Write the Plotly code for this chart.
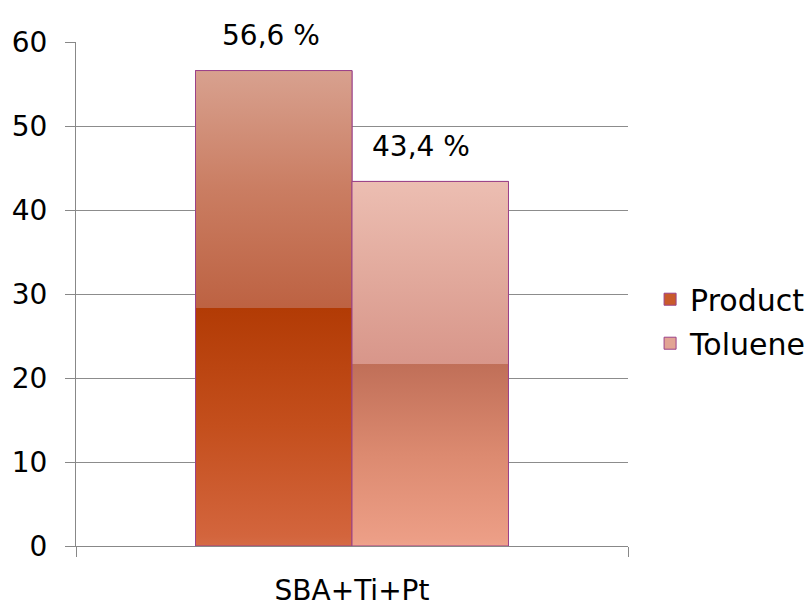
import plotly.graph_objects as go

# Data
categories = ["SBA+Ti+Pt"]
series_names = ["Product", "Toluene"]
series_values = [56.6, 43.4]
y_ticks = [0, 10, 20, 30, 40, 50, 60]

# Styling
BAR_GAP = 0.433
FONT = "DejaVu Sans"
OUTLINE = "#9b4289"
legend_colors = ["#c95a2b", "#e2a494"]
label_xshift = [-3, -9]
# vertical "glass" gradients: bottom half darker, sharp step at mid-height, lighter top half
gradients = [
    [[0.0, "#d56b45"], [0.02, "#d3653d"], [0.25, "#c44f1d"], [0.5, "#b23b05"],
     [0.5, "#bd6242"], [0.75, "#ca7d62"], [1.0, "#d8a18f"]],
    [[0.0, "#efa38c"], [0.02, "#ec9e86"], [0.25, "#dc8a70"], [0.5, "#c06f58"],
     [0.5, "#d8968a"], [0.75, "#e2aa9d"], [1.0, "#ecbeb2"]],
]

fig = go.Figure()

# bars on the category axis (also provide legend entries)
for name, val, col in zip(series_names, series_values, legend_colors):
    fig.add_trace(go.Bar(
        x=categories, y=[val], name=name,
        marker=dict(color=col, line=dict(color=OUTLINE, width=1)),
        hoverinfo="skip",
        legendgroup=name,
    ))

# gradient-filled bar bodies on an overlaid numeric axis spanning the category slot
n = len(series_values)
bar_w = (1 - BAR_GAP) / n
left0 = -bar_w * n / 2
for i, (name, val, cs) in enumerate(zip(series_names, series_values, gradients)):
    x0 = left0 + i * bar_w
    x1 = x0 + bar_w
    fig.add_trace(go.Scatter(
        x=[x0, x1, x1, x0, x0], y=[0, 0, val, val, 0],
        xaxis="x2", mode="lines", fill="toself",
        line=dict(color=OUTLINE, width=1),
        fillgradient=dict(type="vertical", colorscale=cs, start=0, stop=val),
        showlegend=False, hoverinfo="skip",
    ))
    fig.add_annotation(
        x=(x0 + x1) / 2, y=val, xref="x2", yref="y",
        text=f"{val:.1f} %".replace(".", ","),
        showarrow=False, yanchor="middle", yshift=35, xshift=label_xshift[i],
        font=dict(family=FONT, size=28, color="#000000"),
    )

fig.update_layout(
    width=812, height=606,
    margin=dict(l=76, r=184, t=42, b=60, autoexpand=False),
    paper_bgcolor="white", plot_bgcolor="white",
    bargap=BAR_GAP, bargroupgap=0, barmode="group",
    font=dict(family=FONT, size=28, color="#000000"),
    showlegend=True,
    legend=dict(
        x=1.04, y=0.446, xanchor="left", yanchor="middle",
        font=dict(family=FONT, size=30, color="#000000"),
        tracegroupgap=2, bgcolor="rgba(0,0,0,0)",
    ),
    xaxis=dict(
        type="category", tickson="boundaries", ticks="outside", ticklen=10,
        tickcolor="#888888", showline=True, linecolor="#888888", linewidth=1,
        showgrid=False, zeroline=False,
        tickfont=dict(family=FONT, size=28, color="#000000"),
        ticklabelstandoff=19,
    ),
    xaxis2=dict(
        overlaying="x", range=[-0.5, 0.5], visible=False, fixedrange=True,
    ),
    yaxis=dict(
        range=[0, 60], tickvals=y_ticks, ticks="outside", ticklen=10,
        tickcolor="#888888", showline=True, linecolor="#888888", linewidth=1,
        showgrid=True, gridcolor="#8c8c8c", gridwidth=1, zeroline=False,
        tickfont=dict(family=FONT, size=28, color="#000000"),
        ticklabelstandoff=12,
    ),
)

fig.write_html("out.html")
